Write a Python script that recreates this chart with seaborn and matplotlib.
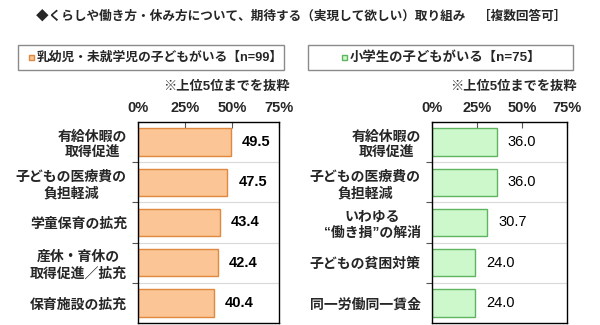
import matplotlib
matplotlib.use("Agg")
import matplotlib.pyplot as plt
from matplotlib.patches import Rectangle
import seaborn as sns
import pandas as pd

# Survey results: top 5 items per group (multiple answers allowed, %)
left_categories = ["有給休暇の\n取得促進", "子どもの医療費の\n負担軽減", "学童保育の拡充",
                   "産休・育休の\n取得促進／拡充", "保育施設の拡充"]
left_values = [49.5, 47.5, 43.4, 42.4, 40.4]

right_categories = ["有給休暇の\n取得促進", "子どもの医療費の\n負担軽減", "いわゆる\n“働き損”の解消",
                    "子どもの貧困対策", "同一労働同一賃金"]
right_values = [36.0, 36.0, 30.7, 24.0, 24.0]

x_ticks = [0, 25, 50, 75]
x_tick_labels = ["0%", "25%", "50%", "75%"]

title = "◆くらしや働き方・休み方について、期待する（実現して欲しい）取り組み　［複数回答可］"
left_header = "乳幼児・未就学児の子どもがいる【n=99】"
right_header = "小学生の子どもがいる【n=75】"
note = "※上位5位までを抜粋"

sns.set_theme(style="white")
plt.rcParams["font.family"] = ["Liberation Sans", "Noto Sans CJK JP", "DejaVu Sans"]
plt.rcParams["font.weight"] = "bold"

ORANGE_FILL, ORANGE_EDGE = "#FBC595", "#E0893E"
GREEN_FILL, GREEN_EDGE = "#CCF8CC", "#5FB45F"

fig = plt.figure(figsize=(6.0, 3.25), dpi=100)

W, H = 600.0, 325.0
ax_top, ax_bottom = 122, 323


def make_axes(x0, x1):
    return fig.add_axes([x0 / W, 1 - ax_bottom / H, (x1 - x0) / W, (ax_bottom - ax_top) / H])


def draw_panel(ax, cats, vals, fill, edge, value_weight):
    df = pd.DataFrame({"item": cats, "pct": vals})
    sns.barplot(data=df, x="pct", y="item", orient="h", ax=ax, color=fill,
                saturation=1, edgecolor=edge, linewidth=1.0, width=0.68)
    ax.bar_label(ax.containers[0], fmt="%.1f", padding=8, fontsize=10.5,
                 fontweight=value_weight, color="black")
    ax.set_xlim(0, 75)
    ax.set_ylim(4.5, -0.5)
    ax.set_xlabel("")
    ax.set_ylabel("")
    # percentage scale on top
    ax.xaxis.tick_top()
    ax.set_xticks(x_ticks)
    ax.set_xticklabels(x_tick_labels, fontsize=10.5, fontweight="bold")
    ax.tick_params(axis="x", which="major", direction="in", length=4, width=0.8,
                   color="#555555", pad=5, bottom=False)
    # category labels, centred multi-line text
    ax.tick_params(axis="y", which="major", length=0, pad=8)
    for lbl in ax.get_yticklabels():
        lbl.set_fontsize(10)
        lbl.set_fontweight("bold")
        lbl.set_multialignment("center")
        lbl.set_linespacing(1.2)
    # separators between categories
    ax.set_yticks([i + 0.5 for i in range(4)], minor=True)
    ax.tick_params(axis="y", which="minor", direction="out", length=4, width=0.8,
                   color="#555555", left=True)
    ax.grid(False)
    ax.grid(True, which="minor", axis="y", color="#d9d9d9", linewidth=0.8)
    for s in ax.spines.values():
        s.set_visible(True)
        s.set_color("black")
        s.set_linewidth(1.0)


ax_l = make_axes(138, 279)
draw_panel(ax_l, left_categories, left_values, ORANGE_FILL, ORANGE_EDGE, "bold")
ax_r = make_axes(432, 567)
draw_panel(ax_r, right_categories, right_values, GREEN_FILL, GREEN_EDGE, "normal")

# title
fig.text(301 / W, 1 - 16 / H, title, ha="center", va="center", fontsize=9.1, fontweight="bold")


# group header boxes with a small coloured key square before the text
def header_box(x0, x1, fill, edge, text, size, centered):
    y0, y1 = 45, 70
    fig.patches.append(Rectangle((x0 / W, 1 - y1 / H), (x1 - x0) / W, (y1 - y0) / H,
                                 transform=fig.transFigure, facecolor="white",
                                 edgecolor="#8a8a8a", linewidth=1.0))
    yc = 1 - (y0 + y1) / 2 / H
    if centered:
        tx = fig.text(((x0 + x1) / 2 + 5) / W, yc, text, ha="center", va="center",
                      fontsize=size, fontweight="bold")
    else:
        tx = fig.text((x0 + 19) / W, yc, text, ha="left", va="center",
                      fontsize=size, fontweight="bold")
    renderer = fig.canvas.get_renderer()
    left_px = tx.get_window_extent(renderer=renderer).x0
    fig.patches.append(Rectangle(((left_px - 8) / W, yc - 2.5 / H), 5 / W, 5 / H,
                                 transform=fig.transFigure, facecolor=fill,
                                 edgecolor=edge, linewidth=1.0))


header_box(18, 284, ORANGE_FILL, ORANGE_EDGE, left_header, 9.2, False)
header_box(308, 573, GREEN_FILL, GREEN_EDGE, right_header, 9.6, True)

# notes above each scale
fig.text(290 / W, 1 - 87 / H, note, ha="right", va="center", fontsize=9.5, fontweight="bold")
fig.text(577 / W, 1 - 87 / H, note, ha="right", va="center", fontsize=9.5, fontweight="bold")

fig.savefig("out.png", dpi=100)
